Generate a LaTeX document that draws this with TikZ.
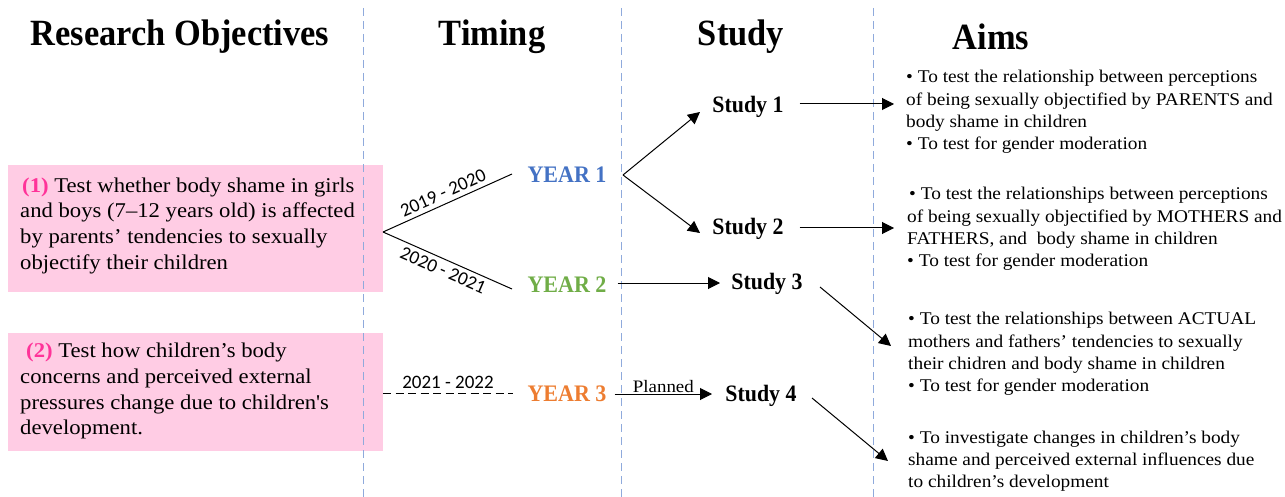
\documentclass[tikz,border=0pt]{standalone}
\usepackage{fontspec}
\setmainfont{Liberation Serif}[FakeStretch=1.08]
\newfontfamily\condserif{Liberation Serif}[FakeStretch=0.93]
\newfontfamily\datefont{Carlito}
\usetikzlibrary{arrows.meta}
\definecolor{pinkbox}{RGB}{255,204,228}
\definecolor{pinknum}{RGB}{255,51,153}
\definecolor{yblue}{RGB}{68,114,196}
\definecolor{ygreen}{RGB}{112,173,71}
\definecolor{yorange}{RGB}{237,125,49}
\definecolor{guide}{RGB}{143,170,220}
\tikzset{
  header/.style={font=\condserif\fontsize{37}{42}\selectfont\bfseries, inner sep=0pt},
  objrect/.style={fill=pinkbox, minimum width=375pt, inner sep=0pt, anchor=north west},
  objtxt/.style={align=left, inner sep=0pt, anchor=west, font=\fontsize{21}{25.8}\selectfont},
  yearlbl/.style={font=\condserif\fontsize{23.7}{28}\selectfont\bfseries, inner sep=0pt},
  studylbl/.style={font=\condserif\fontsize{23.5}{28}\selectfont\bfseries, inner sep=0pt},
  aimtxt/.style={font=\fontsize{17.9}{22.3}\selectfont, align=left, inner sep=0pt, anchor=west},
  datelbl/.style={font=\datefont\fontsize{19}{22}\selectfont, inner sep=4pt},
  planlbl/.style={font=\fontsize{17.5}{20}\selectfont, inner sep=1pt},
  guideline/.style={guide, dash pattern=on 8pt off 5pt, line width=0.9pt},
  conn/.style={black, line width=1pt},
  arr/.style={conn, -{Triangle[length=12pt,width=12pt]}}
}
\begin{document}
\begin{tikzpicture}[x=1pt,y=-1pt]
\useasboundingbox (0,0) rectangle (1285,497);
% pink objective boxes
\node[objrect, minimum height=127pt] (obj1) at (8,165) {};
\node[objrect, minimum height=118pt] (obj2) at (8,333) {};
\node[objtxt] (obj1t) at ([xshift=12pt,yshift=3pt]obj1.west) {\hspace{2pt}\textcolor{pinknum}{\textbf{(1)}} Test whether body shame in girls\\and boys (7--12 years old) is affected\\by parents' tendencies to sexually\\objectify their children};
\node[objtxt] (obj2t) at ([xshift=12pt,yshift=1pt]obj2.west) {\hspace{6pt}\textcolor{pinknum}{\textbf{(2)}} Test how children's body\\concerns and perceived external\\pressures change due to children\textquotesingle s\\development.};
% guide lines
\draw[guideline] (363,8) -- (363,497);
\draw[guideline] (621,8) -- (621,497);
\draw[guideline] (873,8) -- (873,497);
% headers
\node[header] (h1) at (180,37) {Research Objectives};
\node[header] (h2) at (492,37) {Timing};
\node[header] (h3) at (741,37) {Study};
\node[header] (h4) at (991,37) {Aims};
% years
\node[yearlbl, text=yblue] (y1) at (567,175) {YEAR 1};
\node[yearlbl, text=ygreen] (y2) at (567,285) {YEAR 2};
\node[yearlbl, text=yorange] (y3) at (567,394) {YEAR 3};
% studies
\node[studylbl] (s1) at (748,107) {Study 1};
\node[studylbl] (s2) at (748,229) {Study 2};
\node[studylbl] (s3) at (767,284) {Study 3};
\node[studylbl] (s4) at (761,396) {Study 4};
% aims
\node[aimtxt] (a1) at (906,112) {\textbullet\ To test the relationship between perceptions\\of being sexually objectified by PARENTS and\\body shame in children\\\textbullet\ To test for gender moderation};
\node[aimtxt] (a2) at (907,229) {\hspace{2pt}\textbullet\ To test the relationships between perceptions\\of being sexually objectified by MOTHERS and\\FATHERS, and\ \ body shame in children\\\textbullet\ To test for gender moderation};
\node[aimtxt] (a3) at (908,354) {\textbullet\ To test the relationships between ACTUAL\\mothers and fathers' tendencies to sexually\\their chidren and body shame in children\\\textbullet\ To test for gender moderation};
\node[aimtxt] (a4) at (908,461) {\textbullet\ To investigate changes in children's body\\shame and perceived external influences due\\to children's development};
% branch from objectives
\coordinate (br1) at (383,232);
\coordinate (br2) at (383,393);
\draw[conn] (br1) -- node[datelbl, sloped, above] {2019 - 2020} (512,174) coordinate (y1in);
\draw[conn] (br1) -- node[datelbl, sloped, below] {2020 - 2021} (512,289) coordinate (y2in);
\draw[conn, dash pattern=on 8pt off 4.5pt] (br2) -- node[datelbl, above=0pt] {2021 - 2022} (513,393) coordinate (y3in);
% year -> study
\coordinate (y1out) at (623,175);
\draw[arr] (y1out) -- (700,112) coordinate (s1in);
\draw[arr] (y1out) -- (700,233) coordinate (s2in);
\draw[arr] (y2.east) ++(11,-2) coordinate (y2out) -- (720,283) coordinate (s3in);
\draw[arr] (y3.east) ++(8,0) coordinate (y3out) -- node[planlbl, above] {Planned} (712,394) coordinate (s4in);
% study -> aims
\draw[arr] (s1.east) ++(16,-3) coordinate (s1out) -- (894,104) coordinate (a1in);
\draw[arr] (s2.east) ++(16,-1) coordinate (s2out) -- (894,228) coordinate (a2in);
\draw[arr] (820,287) coordinate (s3out) -- (891,346) coordinate (a3in);
\draw[arr] (812,398) coordinate (s4out) -- (888,461) coordinate (a4in);
\end{tikzpicture}
\end{document}
